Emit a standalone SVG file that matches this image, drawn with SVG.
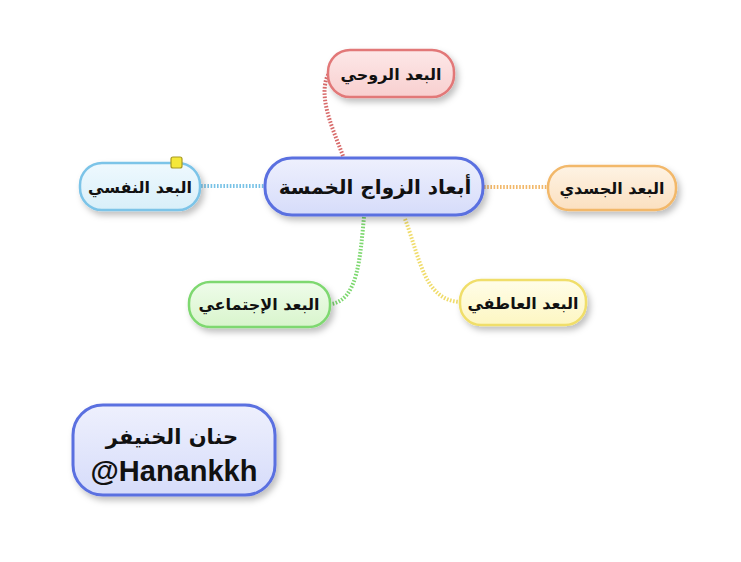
<svg xmlns="http://www.w3.org/2000/svg" width="741" height="562" viewBox="0 0 741 562">
<style>
.ar{font-family:"DejaVu Sans","Noto Sans",sans-serif;font-weight:bold;fill:#111;text-anchor:middle}
.en{font-family:"Liberation Sans",Arial,sans-serif;font-weight:bold;fill:#111;text-anchor:middle}
.conn{fill:none;stroke-width:4;stroke-dasharray:1.6 1.6}
</style>
<defs>
<filter id="sh" x="-20%" y="-30%" width="150%" height="180%">
<feDropShadow dx="3" dy="4" stdDeviation="3" flood-color="#000" flood-opacity="0.25"/>
</filter>
<linearGradient id="gBlue" x1="0" y1="0" x2="0" y2="1"><stop offset="0" stop-color="#eef0fd"/><stop offset="1" stop-color="#d6dcfa"/></linearGradient>
<linearGradient id="gRed" x1="0" y1="0" x2="0" y2="1"><stop offset="0" stop-color="#fde8e8"/><stop offset="1" stop-color="#f8cfcf"/></linearGradient>
<linearGradient id="gCyan" x1="0" y1="0" x2="0" y2="1"><stop offset="0" stop-color="#eff9fe"/><stop offset="1" stop-color="#d8eff9"/></linearGradient>
<linearGradient id="gOrange" x1="0" y1="0" x2="0" y2="1"><stop offset="0" stop-color="#fef3e4"/><stop offset="1" stop-color="#fbe0c0"/></linearGradient>
<linearGradient id="gGreen" x1="0" y1="0" x2="0" y2="1"><stop offset="0" stop-color="#effcea"/><stop offset="1" stop-color="#d8f5cc"/></linearGradient>
<linearGradient id="gYellow" x1="0" y1="0" x2="0" y2="1"><stop offset="0" stop-color="#fffde8"/><stop offset="1" stop-color="#fdf6c2"/></linearGradient>
</defs>
<rect width="741" height="562" fill="#fff"/>
<g id="connectors">
<path class="conn" stroke="#d86a6a" d="M343,156 C334,132 322,106 325,85 C326,78 328,74 331,72"/>
<path class="conn" stroke="#78c2e6" d="M201,186 L264,186"/>
<path class="conn" stroke="#f2b86a" d="M484,187 L548,187"/>
<path class="conn" stroke="#7ed870" d="M364,217 C360,258 358,300 331,304"/>
<path class="conn" stroke="#f0dc6a" d="M405,219 C420,258 424,300 460,302"/>
</g>
<g id="node-center">
<rect x="265" y="158" width="218" height="57" rx="27" fill="url(#gBlue)" stroke="#5a6fe0" stroke-width="3" filter="url(#sh)"/>
<text class="ar" x="375" y="194" font-size="20">أبعاد الزواج الخمسة</text>
</g>
<g id="node-spiritual">
<rect x="328" y="50" width="126" height="47" rx="22" fill="url(#gRed)" stroke="#e27878" stroke-width="2.5" filter="url(#sh)"/>
<text class="ar" x="391" y="80" font-size="16">البعد الروحي</text>
</g>
<g id="node-psych">
<rect x="80" y="163" width="120" height="47" rx="22" fill="url(#gCyan)" stroke="#7cc4e8" stroke-width="2.5" filter="url(#sh)"/>
<text class="ar" x="140" y="193" font-size="16">البعد النفسي</text>
<rect x="171" y="157" width="11" height="11" rx="2" fill="#f4e83a" stroke="#a89a20" stroke-width="1.2"/>
</g>
<g id="node-physical">
<rect x="548" y="166" width="128" height="44" rx="21" fill="url(#gOrange)" stroke="#f2b86a" stroke-width="2.5" filter="url(#sh)"/>
<text class="ar" x="612" y="194" font-size="16">البعد الجسدي</text>
</g>
<g id="node-social">
<rect x="189" y="282" width="141" height="45" rx="21" fill="url(#gGreen)" stroke="#7ed870" stroke-width="2.5" filter="url(#sh)"/>
<text class="ar" x="259" y="310" font-size="16">البعد الإجتماعي</text>
</g>
<g id="node-emotional">
<rect x="460" y="280" width="126" height="45" rx="21" fill="url(#gYellow)" stroke="#f0de6a" stroke-width="2.5" filter="url(#sh)"/>
<text class="ar" x="523" y="309" font-size="16">البعد العاطفي</text>
</g>
<g id="node-author">
<rect x="73" y="405" width="202" height="90" rx="30" fill="url(#gBlue)" stroke="#5a6fe0" stroke-width="3" filter="url(#sh)"/>
<text class="ar" x="172" y="444" font-size="21">حنان الخنيفر</text>
<text class="en" x="174" y="481" font-size="29">@Hanankkh</text>
</g>
</svg>
